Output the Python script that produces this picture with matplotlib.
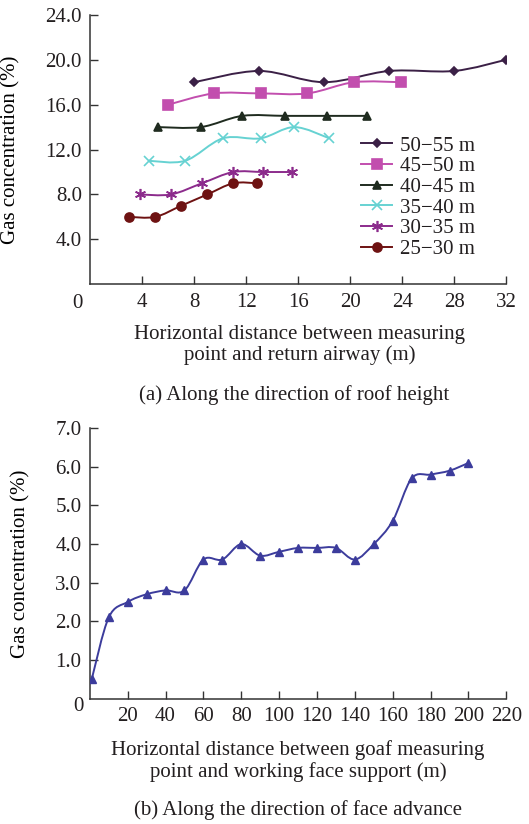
import matplotlib
matplotlib.use('Agg')
import matplotlib.pyplot as plt
from matplotlib.path import Path
from matplotlib.patches import PathPatch
from matplotlib.lines import Line2D
import numpy as np

plt.rcParams['font.family'] = ['Liberation Serif', 'DejaVu Serif']
plt.rcParams['font.size'] = 15
plt.rcParams['text.color'] = '#231f20'

# (a) roof height direction
labels_a = ['50\u221255 m', '45\u221250 m', '40\u221245 m', '35\u221240 m', '30\u221235 m', '25\u221230 m']
x_50_55 = [8, 13, 18, 23, 28, 32]
y_50_55 = [18, 19, 18, 19, 19, 20]
x_45_50 = [6, 9.5, 13.1, 16.7, 20.3, 23.9]
y_45_50 = [16, 17, 17, 17, 18, 18]
x_40_45 = [5.2, 8.5, 11.7, 15, 18.2, 21.3]
y_40_45 = [14, 14, 15, 15, 15, 15]
x_35_40 = [4.5, 7.3, 10.2, 13.1, 15.7, 18.4]
y_35_40 = [11, 11, 13, 13, 14, 13]
x_30_35 = [3.8, 6.2, 8.6, 11, 13.3, 15.5]
y_30_35 = [8, 8, 9, 10, 10, 10]
x_25_30 = [3, 5, 7, 9, 11, 12.8]
y_25_30 = [6, 6, 7, 8, 9, 9]

# (b) face advance direction
x_b = [1, 10, 20, 30, 40, 50, 60, 70, 80, 90, 100, 110, 120, 130, 140, 150, 160, 170, 180, 190, 200]
y_b = [0.5, 2.1, 2.5, 2.7, 2.8, 2.8, 3.6, 3.6, 4.0, 3.7, 3.8, 3.9, 3.9, 3.9, 3.6, 4.0, 4.6, 5.7, 5.8, 5.9, 6.1]

xs_a = [x_50_55, x_45_50, x_40_45, x_35_40, x_30_35, x_25_30]
ys_a = [y_50_55, y_45_50, y_40_45, y_35_40, y_30_35, y_25_30]
colors_a = ['#3b2046', '#c24eae', '#1f2b1f', '#66d2d2', '#8c2b8c', '#6e1212']
markers_a = ['D', 's', '^', 'x', (6, 2, 0), 'o']
msizes_a = [4.5, 6.5, 6, 7, 8, 6.5]


def smooth_line(ax, x, y, color, lw=1.4):
    # smoothed connecting line (Catmull-Rom as cubic bezier), like the excel look
    x = np.asarray(x, float)
    y = np.asarray(y, float)
    n = len(x)
    verts = [(x[0], y[0])]
    codes = [Path.MOVETO]
    for i in range(n - 1):
        i0 = max(i - 1, 0)
        i3 = min(i + 2, n - 1)
        c1 = (x[i] + (x[i + 1] - x[i0]) / 6, y[i] + (y[i + 1] - y[i0]) / 6)
        c2 = (x[i + 1] - (x[i3] - x[i]) / 6, y[i + 1] - (y[i3] - y[i]) / 6)
        verts += [c1, c2, (x[i + 1], y[i + 1])]
        codes += [Path.CURVE4] * 3
    ax.add_patch(PathPatch(Path(verts, codes), fill=False, edgecolor=color, lw=lw, zorder=2))


def style_axes(ax):
    for s in ['top', 'right']:
        ax.spines[s].set_visible(False)
    for s in ['left', 'bottom']:
        ax.spines[s].set_color('#333333')
        ax.spines[s].set_linewidth(1.1)
    ax.tick_params(direction='in', length=6, width=1.0, color='#333333', labelcolor='#231f20')
    ax.tick_params(axis='x', pad=6)
    ax.tick_params(axis='y', pad=6)


fig = plt.figure(figsize=(5.29, 8.24), dpi=100)

# ---- (a)
ax1 = fig.add_axes([0.1707, 0.655, 0.786, 0.327])
handles = []
for x, y, c, m, ms, lab in zip(xs_a, ys_a, colors_a, markers_a, msizes_a, labels_a):
    smooth_line(ax1, x, y, c)
    ax1.plot(x, y, ls='none', marker=m, ms=ms, color=c, mec=c, mew=1.2, zorder=3)
    handles.append(Line2D([], [], color=c, lw=1.4, marker=m, ms=ms, mec=c, mew=1.2, label=lab))
ax1.set_xlim(0, 32)
ax1.set_ylim(0, 24)
ax1.set_xticks([4, 8, 12, 16, 20, 24, 28, 32])
ax1.set_yticks([4, 8, 12, 16, 20, 24])
ax1.set_yticklabels(['4.0', '8.0', '12.0', '16.0', '20.0', '24.0'])
style_axes(ax1)
ax1.annotate('0', xy=(0, 0), xycoords='axes fraction', xytext=(-13, -19),
             textcoords='offset pixels', ha='center', va='center')
ax1.set_ylabel('Gas concentration (%)')
ax1.yaxis.set_label_coords(-0.168, 0.5)
ax1.legend(handles=handles, loc='upper left', bbox_to_anchor=(0.652, 0.55),
           frameon=False, borderpad=0, borderaxespad=0, handlelength=1.45,
           handletextpad=0.4, labelspacing=0.05)
fig.text(300 / 529, 1 - 345 / 824,
         'Horizontal distance between measuring\npoint and return airway (m)',
         ha='center', va='center', linespacing=1.1)
fig.text(294 / 529, 1 - 395 / 824, '(a) Along the direction of roof height',
         ha='center', va='center')

# ---- (b)
ax2 = fig.add_axes([0.1698, 0.1523, 0.7873, 0.328])
smooth_line(ax2, x_b, y_b, '#3c3c9c')
ax2.plot(x_b, y_b, ls='none', marker='^', ms=6, color='#3c3c9c', zorder=3)
ax2.set_xlim(0, 220)
ax2.set_ylim(0, 7)
ax2.set_xticks(range(20, 221, 20))
ax2.set_yticks([1, 2, 3, 4, 5, 6, 7])
ax2.set_yticklabels(['1.0', '2.0', '3.0', '4.0', '5.0', '6.0', '7.0'])
style_axes(ax2)
ax2.annotate('0', xy=(0, 0), xycoords='axes fraction', xytext=(-11, -8),
             textcoords='offset pixels', ha='center', va='center')
ax2.set_ylabel('Gas concentration (%)')
ax2.yaxis.set_label_coords(-0.143, 0.5)
fig.text(298 / 529, 1 - 761 / 824,
         'Horizontal distance between goaf measuring\npoint and working face support (m)',
         ha='center', va='center', linespacing=1.1)
fig.text(298 / 529, 1 - 810 / 824, '(b) Along the direction of face advance',
         ha='center', va='center')

fig.savefig('out.png', dpi=100)
